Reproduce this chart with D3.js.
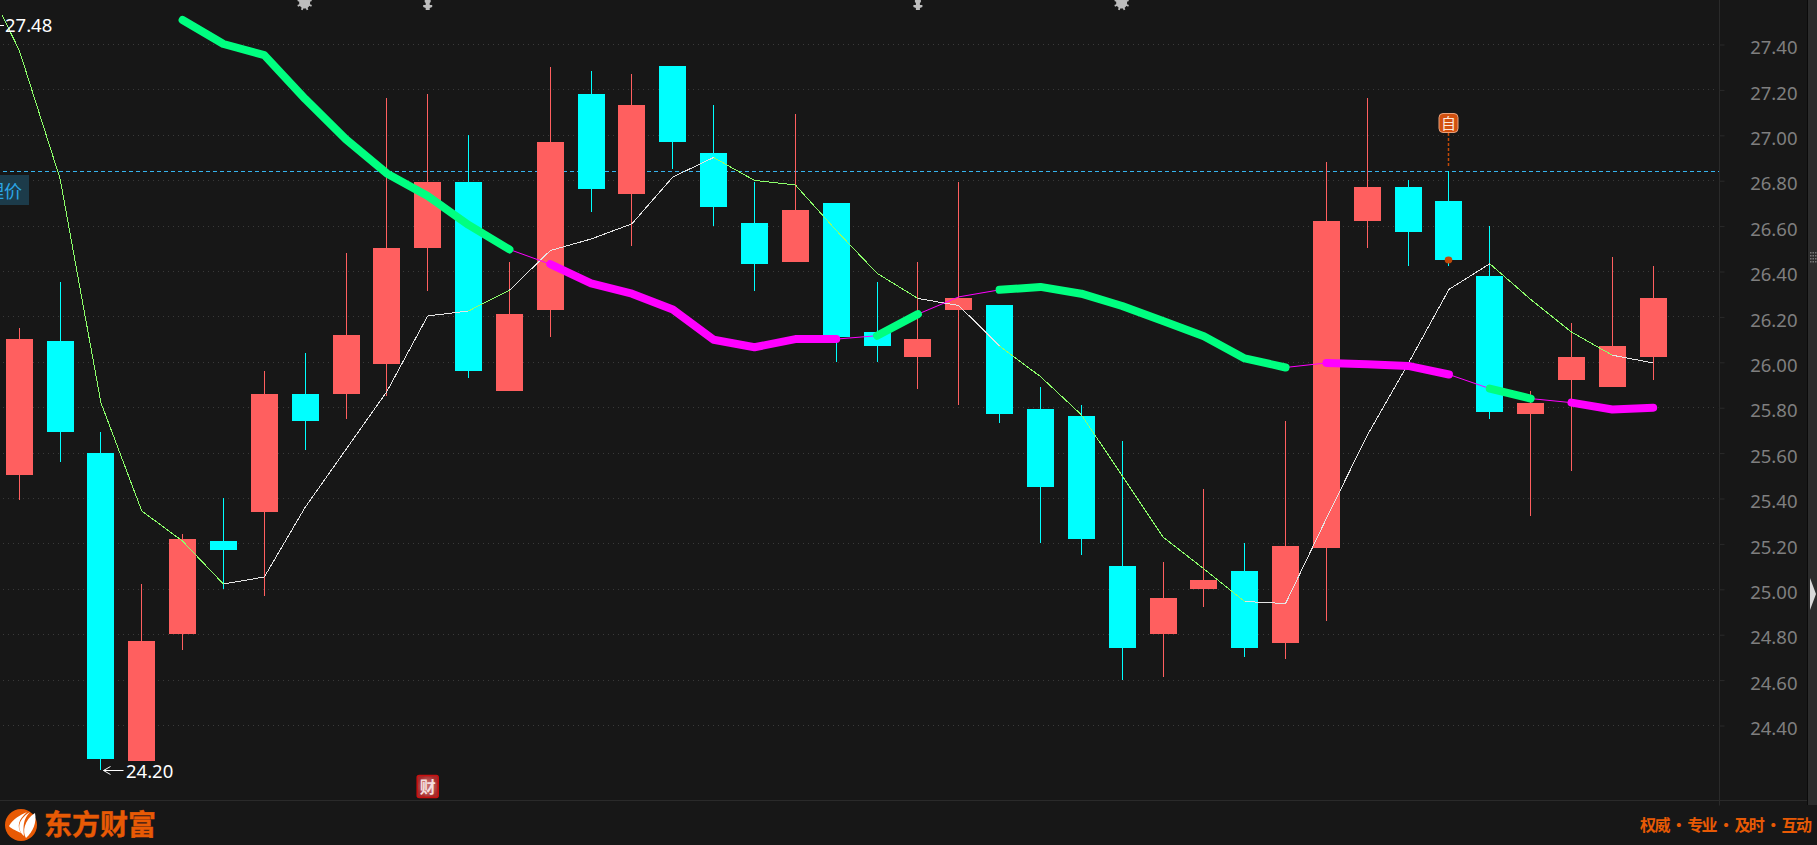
<!DOCTYPE html>
<html lang="zh">
<head>
<meta charset="utf-8">
<title>K线图</title>
<script src="https://cdn.jsdelivr.net/npm/d3@7"></script>
<style>
html,body{margin:0;padding:0;background:#171717;overflow:hidden}
svg{display:block}
text{font-family:"Noto Sans",sans-serif}
.cjk{font-family:"Noto Sans CJK SC",sans-serif}
</style>
</head>
<body>
<script>
// ---------- data ----------
const highs = [26.15,26.35,25.69,25.02,25.24,25.40,25.96,26.04,26.48,27.16,27.18,27.00,26.44,27.30,27.28,27.27,27.305,27.13,26.79,27.09,26.70,26.35,26.44,26.79,26.25,25.89,25.81,25.65,25.12,25.44,25.20,25.74,26.88,27.16,26.80,26.84,26.60,25.87,26.17,26.46,26.42];
const lows  = [25.39,25.56,24.20,24.24,24.73,25.00,24.97,25.61,25.75,25.85,26.31,25.93,25.87,26.11,26.66,26.51,26.85,26.60,26.31,26.44,26.00,26.00,25.88,25.81,25.73,25.20,25.15,24.60,24.61,24.92,24.70,24.69,24.86,26.50,26.42,26.42,25.75,25.32,25.52,25.89,25.92];
const bodyTops = [26.10,26.09,25.60,24.77,25.22,25.21,25.86,25.86,26.12,26.50,26.79,26.79,26.21,26.97,27.18,27.13,27.305,26.92,26.61,26.67,26.70,26.13,26.10,26.28,26.25,25.79,25.76,25.10,24.96,25.04,25.08,25.19,26.62,26.77,26.77,26.71,26.38,25.82,26.02,26.07,26.28];
const bodyBottoms = [25.50,25.69,24.25,24.24,24.80,25.17,25.34,25.74,25.86,25.99,26.50,25.96,25.87,26.23,26.76,26.74,26.97,26.68,26.43,26.44,26.11,26.07,26.02,26.23,25.77,25.45,25.22,24.74,24.80,25.00,24.74,24.76,25.18,26.62,26.57,26.45,25.78,25.77,25.92,25.89,26.02];
const rising = [1,0,0,1,1,0,1,0,1,1,1,0,1,1,0,1,0,0,0,1,0,0,1,1,0,0,0,0,1,1,0,1,1,1,0,0,0,1,1,1,1];

// fast average; first value belongs to the session just left of the view
const fastIndexStart = -1;
const fastAverage = [27.74,27.373,26.807,25.82,25.343,25.21,25.021,25.052,25.359,25.614,25.869,26.202,26.224,26.315,26.49,26.541,26.608,26.814,26.90,26.799,26.779,26.579,26.39,26.279,26.248,26.069,25.935,25.767,25.498,25.228,25.088,24.944,24.935,25.31,25.676,25.991,26.319,26.432,26.275,26.131,26.029,25.995];
// session ranges over which the fast average is drawn green: [from, to]
const fastGreenRuns = [[-1,5],[11,12],[17,22],[24,30],[36,39]];

// slow average, starts at session 4
const slowIndexStart = 4;
const slowAverage = [27.506,27.40,27.351,27.158,26.98,26.83,26.73,26.603,26.495,26.43,26.346,26.30,26.23,26.097,26.064,26.10,26.10,26.115,26.21,26.286,26.317,26.33,26.30,26.246,26.18,26.113,26.015,25.975,25.995,25.989,25.982,25.944,25.882,25.838,25.82,25.79,25.798];
// runs of the slow average: [from session, to session, state]
const slowRuns = [[4,12,"G"],[12,13,"m"],[13,20,"M"],[20,21,"m"],[21,22,"G"],[22,24,"m"],[24,31,"G"],[31,32,"m"],[32,35,"M"],[35,36,"m"],[36,37,"G"],[37,38,"m"],[38,40,"M"]];

const yTicks = [27.4,27.2,27.0,26.8,26.6,26.4,26.2,26.0,25.8,25.6,25.4,25.2,25.0,24.8,24.6,24.4];
const currentPrice = 26.84;
const highLabel = "27.48", lowLabel = "24.20", lowLabelValue = 24.20, lowLabelIndex = 2;
const gearSessions = [7,27], arrowSessions = [10,22];
const noteSession = 35, financeSession = 10;
const tagline = "权威 · 专业 · 及时 · 互动", brand = "东方财富", priceTag = "理价";

// ---------- scales ----------
const W = 1817, H = 845;
const x = d3.scaleLinear().domain([0,40]).range([19.2,1653.2]);
const y = d3.scaleLinear().domain([24.4,27.4]).range([725,44]);
const snap = v => Math.floor(v) + 0.5;
const bg = "#171717", RED = "#ff5f5f", CYAN = "#00ffff", GREEN = "#00ff80", MAG = "#ff00ff",
      LIME = "#8cff6a", ORANGE = "#e85a05", LINE = "#2a2a2a";
const bodyW = 27;

const svg = d3.select("body").append("svg").attr("width",W).attr("height",H).attr("viewBox",`0 0 ${W} ${H}`);
svg.append("rect").attr("width",W).attr("height",H).attr("fill",bg);

// right strip
svg.append("rect").attr("x",1808).attr("y",0).attr("width",9).attr("height",805).attr("fill","#2c2c2c");
svg.append("line").attr("x1",1807.5).attr("x2",1807.5).attr("y1",0).attr("y2",805).attr("stroke","#0b0b0b");

// horizontal floor + gridlines
svg.append("line").attr("x1",0).attr("x2",1807).attr("y1",800.5).attr("y2",800.5).attr("stroke",LINE);
svg.append("g").selectAll("line").data(yTicks).join("line")
  .attr("x1",3).attr("x2",1716)
  .attr("y1",d=>Math.round(y(d))+0.5).attr("y2",d=>Math.round(y(d))+0.5)
  .attr("stroke","#3a3a3a").attr("stroke-dasharray","1 4").attr("shape-rendering","crispEdges");

// axis
const axisG = svg.append("g").attr("transform","translate(1719.5,0.5)")
  .call(d3.axisRight(y).tickValues(yTicks).tickFormat(d3.format(".2f")).tickSize(5).tickSizeOuter(0));
axisG.select(".domain").attr("d","M0,-1V805").attr("stroke",LINE);
axisG.selectAll(".tick line").attr("stroke",LINE);
axisG.selectAll(".tick text").attr("x",78).attr("dy","0.5em").attr("text-anchor","end")
  .attr("fill","#7f7f7f").style("font-family",'"Noto Sans",sans-serif').style("font-size","18.5px");

// current price
svg.append("line").attr("x1",3).attr("x2",1719)
  .attr("y1",Math.round(y(currentPrice))+0.5).attr("y2",Math.round(y(currentPrice))+0.5)
  .attr("stroke","#36b4ee").attr("stroke-dasharray","4 3").attr("shape-rendering","crispEdges");

// candles
const sessions = d3.range(highs.length);
const candles = svg.append("g").attr("shape-rendering","crispEdges");
candles.selectAll("line").data(sessions).join("line")
  .attr("x1",i=>snap(x(i))).attr("x2",i=>snap(x(i)))
  .attr("y1",i=>y(highs[i])).attr("y2",i=>y(lows[i]))
  .attr("stroke",i=>rising[i]?RED:CYAN);
candles.selectAll("rect").data(sessions).join("rect")
  .attr("x",i=>snap(x(i))-bodyW/2).attr("width",bodyW)
  .attr("y",i=>Math.round(y(bodyTops[i])))
  .attr("height",i=>Math.round(y(bodyBottoms[i]))-Math.round(y(bodyTops[i])))
  .attr("fill",i=>rising[i]?RED:CYAN);

// fast average
const lineGen = d3.line().x(d=>x(d[0])).y(d=>y(d[1]));
svg.append("clipPath").attr("id","clipFast").append("rect").attr("x",2).attr("y",14).attr("width",1700).attr("height",780);
const fastPts = fastAverage.map((v,k)=>[k+fastIndexStart,v]);
const isFastGreen = s => fastGreenRuns.some(r=>s>=r[0] && s<r[1]);
svg.append("g").attr("clip-path","url(#clipFast)").attr("shape-rendering","crispEdges")
  .selectAll("path").data(d3.range(fastPts.length-1)).join("path")
  .attr("d",k=>lineGen([fastPts[k],fastPts[k+1]]))
  .attr("fill","none").attr("stroke",k=>isFastGreen(fastPts[k][0])?LIME:"#e4e4e4").attr("stroke-width",1);

// slow average
const slowOf = s => [s, slowAverage[s-slowIndexStart]];
const slowG = svg.append("g").attr("fill","none").attr("stroke-linecap","round").attr("stroke-linejoin","round");
const order = slowRuns.slice().sort((a,b)=>(a[2]==="m"?0:1)-(b[2]==="m"?0:1));
slowG.selectAll("path").data(order).join("path")
  .attr("d",r=>lineGen(d3.range(r[0],r[1]+1).map(slowOf)))
  .attr("stroke",r=>r[2]==="G"?GREEN:MAG)
  .attr("stroke-width",r=>r[2]==="m"?1:8);

// high / low labels
svg.append("path").attr("d","M0,25.5H4").attr("stroke","#fff").attr("fill","none");
svg.append("text").attr("x",5).attr("y",32).attr("fill","#fff").style("font-size","18.5px").text(highLabel);
const ly = Math.round(y(lowLabelValue))+0.5, lx = snap(x(lowLabelIndex));
svg.append("path").attr("d",`M${lx+3},${ly}H${lx+23}M${lx+3},${ly}l7,-4M${lx+3},${ly}l7,4`).attr("stroke","#fff").attr("fill","none");
svg.append("text").attr("x",lx+25.5).attr("y",ly+7).attr("fill","#fff").style("font-size","18.5px").text(lowLabel);

// price tag, clipped at the left edge as in the source
svg.append("rect").attr("x",0).attr("y",175).attr("width",29).attr("height",30).attr("fill","#1c3b4a");
svg.append("text").attr("class","cjk").attr("x",22).attr("y",198).attr("text-anchor","end")
  .attr("fill","#2ba6e6").style("font-size","18px").text(priceTag);

// top event marks
const marks = svg.append("g").attr("fill","#bdbdbd");
gearSessions.forEach(s=>{
  const cx = x(s)-0.5;
  marks.append("circle").attr("cx",cx).attr("cy",3).attr("r",5.5);
  d3.range(8).forEach(k=>{
    const a = k*Math.PI/4+Math.PI/8;
    marks.append("line").attr("x1",cx).attr("y1",3).attr("x2",cx+7.5*Math.cos(a)).attr("y2",3+7.5*Math.sin(a))
      .attr("stroke","#bdbdbd").attr("stroke-width",1.8);
  });
});
arrowSessions.forEach(s=>{
  const cx = x(s);
  marks.append("path").attr("d",`M${cx-3},0H${cx+3}V2L${cx+2},3V5H${cx+4.5}V7L${cx+2},8V10H${cx-2}V8L${cx-4.5},7V5H${cx-2}V3L${cx-3},2Z`);
});

// finance badge
const fx = x(financeSession);
const defs = svg.append("defs");
const rg = defs.append("radialGradient").attr("id","badge");
rg.append("stop").attr("offset","35%").attr("stop-color","#c46a6a");
rg.append("stop").attr("offset","100%").attr("stop-color","#a52c2c");
svg.append("rect").attr("x",fx-10.5).attr("y",775.5).attr("width",21).attr("height",22).attr("rx",2)
  .attr("fill","url(#badge)").attr("stroke","#c91010").attr("stroke-width",1.5);
svg.append("text").attr("class","cjk").attr("x",fx).attr("y",792.5).attr("text-anchor","middle")
  .attr("fill","#f3dede").style("font-size","16px").style("font-weight","700").text("财");

// note marker
const nx = snap(x(noteSession));
svg.append("line").attr("x1",nx).attr("x2",nx).attr("y1",133).attr("y2",167)
  .attr("stroke","#c24a08").attr("stroke-width",1.5).attr("stroke-dasharray","3 2");
svg.append("rect").attr("x",nx-9.5).attr("y",113.5).attr("width",19).attr("height",19).attr("rx",4)
  .attr("fill","#d2500f").attr("stroke","#e9a27c").attr("stroke-width",1);
svg.append("text").attr("class","cjk").attr("x",nx).attr("y",129).attr("text-anchor","middle")
  .attr("fill","#fde8dc").style("font-size","15px").text("自");
svg.append("ellipse").attr("cx",nx).attr("cy",260).attr("rx",3.8).attr("ry",3.4).attr("fill","#c2480a");

// resize grip and collapse arrow on the strip
const grip = svg.append("g").attr("fill","#777");
d3.range(4).forEach(r=>d3.range(3).forEach(c=>
  grip.append("rect").attr("x",1810+c*2.5).attr("y",252+r*3).attr("width",1.5).attr("height",1.5)));
svg.append("path").attr("d","M1810,578L1816,594L1810,610Z").attr("fill","#d9d9d9");

// footer brand
const logo = svg.append("g");
logo.append("circle").attr("cx",21).attr("cy",825).attr("r",16).attr("fill",ORANGE);
logo.append("path").attr("fill","#fff").attr("d","M26,838C22,832 24,820 35,813C37,822 33,832 26,838Z");
logo.append("path").attr("fill","#fff").attr("d","M24,836C17,830 17,820 30,812C23,819 23,827 24,836Z");
logo.append("path").attr("fill","#fff").attr("d","M21,833C15,830 10,828 9,826C13,819 20,815 27,812C18,820 17,826 21,833Z");
svg.append("text").attr("class","cjk").attr("x",44).attr("y",835).attr("fill",ORANGE)
  .attr("stroke",ORANGE).attr("stroke-width",0.4)
  .style("font-size","28px").style("font-weight","700").text(brand);
svg.append("text").attr("class","cjk").attr("x",1640).attr("y",831).attr("fill",ORANGE)
  .attr("textLength",172).attr("lengthAdjust","spacing")
  .style("font-size","16px").style("font-weight","700").text(tagline);
</script>
</body>
</html>
